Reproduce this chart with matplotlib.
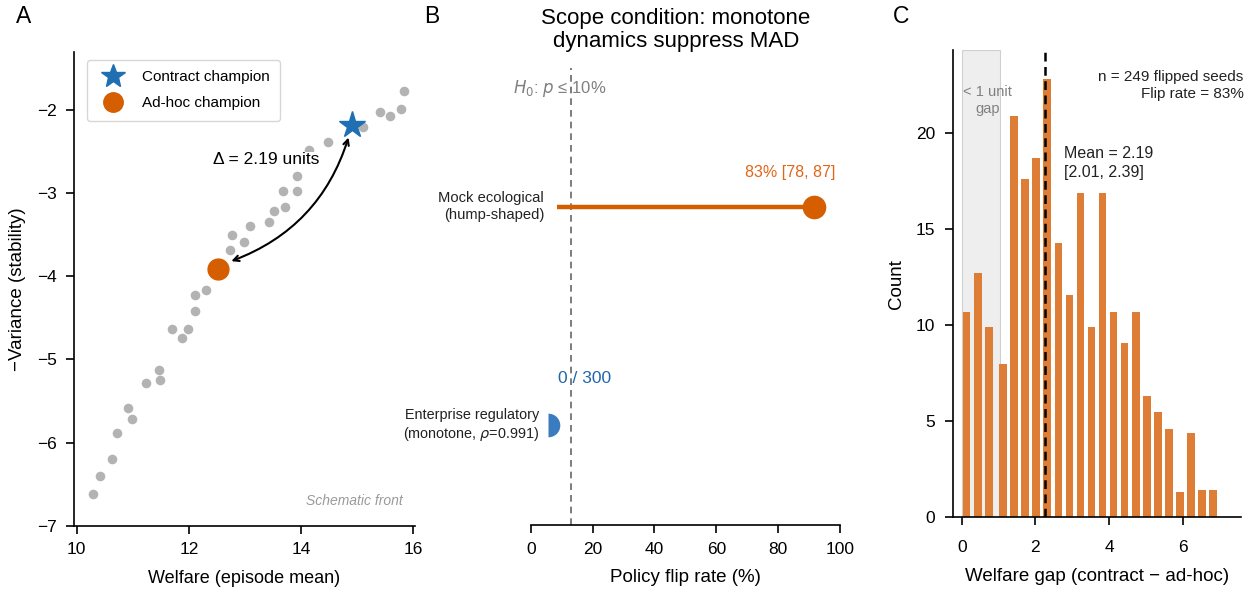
import numpy as np
import matplotlib
matplotlib.use("Agg")
import matplotlib.pyplot as plt
from matplotlib.lines import Line2D

plt.rcParams['font.family'] = ['Liberation Sans', 'DejaVu Sans']
plt.rcParams['axes.linewidth'] = 1.2
plt.rcParams['xtick.major.width'] = 1.2
plt.rcParams['ytick.major.width'] = 1.2
plt.rcParams['xtick.major.size'] = 6
plt.rcParams['ytick.major.size'] = 6

BLUE = "#1f6fb2"
ORANGE = "#d55e00"
HIST = "#de7d35"

# panel A: schematic Pareto front
front_welfare = [10.29, 10.41, 10.63, 10.72, 10.91, 10.99, 11.23, 11.46, 11.48,
                 11.70, 11.87, 11.98, 12.10, 12.11, 12.30, 12.73, 12.77, 12.99,
                 13.09, 13.42, 13.52, 13.67, 13.71, 13.92, 13.93, 14.15, 14.48,
                 15.10, 15.40, 15.58, 15.78, 15.83]
front_negvar = [-6.62, -6.40, -6.20, -5.88, -5.58, -5.72, -5.28, -5.13, -5.25,
                -4.63, -4.74, -4.64, -4.42, -4.22, -4.16, -3.69, -3.51, -3.59,
                -3.39, -3.35, -3.21, -2.97, -3.17, -2.97, -2.79, -2.48, -2.39,
                -2.21, -2.03, -2.07, -1.99, -1.77]
contract_pt = (14.91, -2.18)
adhoc_pt = (12.51, -3.91)
delta_label = "Δ = 2.19 units"

# panel B: policy flip rate
scenarios = ["Mock ecological\n(hump-shaped)",
             "Enterprise regulatory\n(monotone, $\\rho$=0.991)"]
flip_rate = [91.6, 5.5]
flip_labels = ["83% [78, 87]", "0 / 300"]
h0_line = 13

# panel C: welfare gap histogram
gap_counts_small = [10.7, 12.7, 9.9]
gap_counts = [8.0, 20.9, 17.6, 18.7, 22.8, 14.3, 11.6, 16.9, 9.9, 16.9,
              10.7, 9.1, 10.7, 6.3, 5.5, 4.6, 1.3, 4.4, 1.4, 1.4]
mean_line = 2.26

fig = plt.figure(figsize=(12.6, 6), dpi=100)

# ---------------- A ----------------
axA = fig.add_axes([0.0587, 0.1238, 0.2706, 0.7900])
axA.scatter(front_welfare, front_negvar, s=48, color="#b3b3b3", lw=0, zorder=2)
axA.plot(*adhoc_pt, 'o', ms=15, color=ORANGE, zorder=4)
axA.plot(*contract_pt, '*', ms=20, color=BLUE, zorder=4)
axA.annotate("", xy=(contract_pt[0] - 0.05, contract_pt[1] - 0.12),
             xytext=(adhoc_pt[0] + 0.2, adhoc_pt[1] + 0.08),
             arrowprops=dict(arrowstyle="<->", color="black", lw=1.5,
                             connectionstyle="arc3,rad=0.25"), zorder=5)
axA.text(13.37, -2.60, delta_label, fontsize=12.5, ha="center", va="center",
         bbox=dict(facecolor="white", edgecolor="none", pad=0.5), zorder=3)
axA.text(15.82, -6.70, "Schematic front", fontsize=10, style="italic",
         color="#9a9a9a", ha="right", va="center")
axA.set_xlim(9.95, 16.03)
axA.set_ylim(-7, -1.3)
axA.set_xticks([10, 12, 14, 16])
axA.set_yticks([-7, -6, -5, -4, -3, -2])
axA.set_yticklabels(["\u22127", "\u22126", "\u22125", "\u22124", "\u22123", "\u22122"])
axA.tick_params(labelsize=12.5, pad=6)
axA.set_xlabel("Welfare (episode mean)", fontsize=13, labelpad=9)
axA.set_ylabel("\u2212Variance (stability)", fontsize=13.5, labelpad=8)
for s in ["top", "right"]:
    axA.spines[s].set_visible(False)
handles = [Line2D([], [], marker='*', ms=18, color=BLUE, ls=''),
           Line2D([], [], marker='o', ms=14, color=ORANGE, ls='')]
axA.legend(handles, ["Contract champion", "Ad-hoc champion"], loc="upper left",
           bbox_to_anchor=(0.037, 0.983), borderaxespad=0, fontsize=11,
           frameon=True, edgecolor="#cccccc", handletextpad=0.9,
           borderpad=0.7, labelspacing=0.75)

# ---------------- B ----------------
axB = fig.add_axes([0.4212, 0.1250, 0.2455, 0.7617])
axB.hlines(1, 8.6, flip_rate[0], color=ORANGE, lw=3.2, zorder=2)
axB.plot(flip_rate[0], 1, 'o', ms=16, color=ORANGE, zorder=3)
axB.plot(flip_rate[1], 0, 'o', ms=17, color="#3a7cbf", fillstyle="right",
         markerfacecoloralt="none", mew=0, zorder=3)
axB.axvline(h0_line, color="#666666", lw=1.2, ls=(0, (4, 3)), zorder=1)
axB.text(84, 1.155, flip_labels[0], color="#e0661a", fontsize=11.5,
         ha="center", va="center")
axB.text(17.4, 0.213, flip_labels[1], color="#2166ac", fontsize=12.5,
         ha="center", va="center")
axB.text(4.3, 1, scenarios[0], fontsize=10.6, ha="right", va="center",
         color="#222222", linespacing=1.3)
axB.text(2.8, 0, scenarios[1], fontsize=10.4, ha="right", va="center",
         color="#222222", linespacing=1.3)
axB.text(9.3, 1.54, "$H_0$: $p$ \u2264 10%", fontsize=12, color="#808080",
         ha="center", va="center")
axB.set_xlim(0, 100)
axB.set_ylim(-0.455, 1.634)
axB.set_xticks([0, 20, 40, 60, 80, 100])
axB.set_yticks([])
axB.tick_params(labelsize=12.5, pad=6)
axB.set_xlabel("Policy flip rate (%)", fontsize=13.5, labelpad=9)
for s in ["top", "right", "left"]:
    axB.spines[s].set_visible(False)
fig.text(0.5365, 0.986, "Scope condition: monotone\ndynamics suppress MAD",
         fontsize=16, ha="center", va="top", linespacing=1.1)

# ---------------- C ----------------
axC = fig.add_axes([0.7566, 0.1378, 0.2281, 0.7788])
small_left = np.linspace(0, 0.92, len(gap_counts_small) + 1)[:-1]
large_left = np.linspace(1.0, 7.0, len(gap_counts) + 1)[:-1]
axC.axvspan(0, 1.05, color="#eeeeee", ec="#d0d0d0", lw=0.8, zorder=0)
axC.bar(small_left + 0.02, gap_counts_small, width=0.21, align="edge",
        color=HIST, zorder=2)
axC.bar(large_left + 0.02, gap_counts, width=0.21, align="edge",
        color=HIST, zorder=2)
axC.axvline(mean_line, color="black", lw=1.8, ls=(0, (3.5, 2.2)), zorder=3)
axC.text(0.70, 21.7, "< 1 unit\ngap", fontsize=10.5, color="#808080",
         ha="center", va="center", linespacing=1.3)
axC.text(2.78, 18.45, "Mean = 2.19\n[2.01, 2.39]", fontsize=11.5,
         ha="left", va="center", color="#222222", linespacing=1.35)
axC.text(1.01, 22.5, "n = 249 flipped seeds\nFlip rate = 83%", fontsize=11,
         ha="right", va="center", transform=axC.get_yaxis_transform(),
         color="#222222", linespacing=1.3)
axC.set_xlim(-0.23, 7.58)
axC.set_ylim(0, 24.33)
axC.set_xticks([0, 2, 4, 6])
axC.set_yticks([0, 5, 10, 15, 20])
axC.tick_params(labelsize=12.5, pad=7)
axC.tick_params(axis="x", pad=10)
axC.set_xlabel("Welfare gap (contract \u2212 ad-hoc)", fontsize=13.5, labelpad=10)
axC.set_ylabel("Count", fontsize=13.5, labelpad=8)
for s in ["top", "right"]:
    axC.spines[s].set_visible(False)

# panel letters
for x, letter in [(0.019, "A"), (0.343, "B"), (0.715, "C")]:
    fig.text(x, 0.972, letter, fontsize=16.5, ha="center", va="center")

fig.savefig("out.png", dpi=100)
